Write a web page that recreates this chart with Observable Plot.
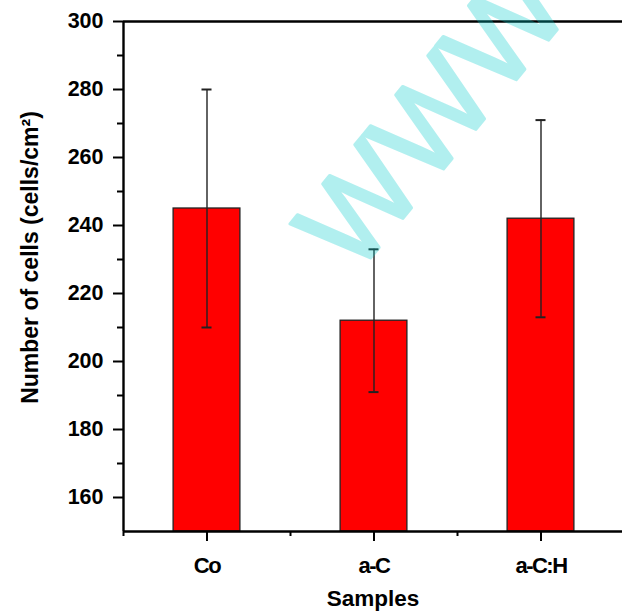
<!DOCTYPE html>
<html>
<head>
<meta charset="utf-8">
<script src="https://cdn.jsdelivr.net/npm/d3@7"></script>
<script src="https://cdn.jsdelivr.net/npm/@observablehq/plot@0.6"></script>
<style>
  html, body { margin: 0; padding: 0; background: #fff; }
  svg { display: block; }
</style>
</head>
<body>
<div id="chart"></div>
<script>
// ---- data ----
const categories = ["Co", "a-C", "a-C:H"];
const means      = [245, 212, 242];
const errLow     = [210, 191, 213];
const errHigh    = [280, 233, 271];
const yMajorTicks = [160, 180, 200, 220, 240, 260, 280, 300];
const yMinorTicks = [170, 190, 210, 230, 250, 270, 290];
const yDomain = [150, 300];
const yLabel = "Number of cells (cells/cm²)";
const xLabel = "Samples";
const watermark = "WWW";

const rows = categories.map((c, i) => ({
  pos: i + 1, name: c, mean: means[i], lo: errLow[i], hi: errHigh[i]
}));
const catPos = rows.map(d => d.pos);
const bounds = [0.5, ...rows.map(d => d.pos + 0.5)];

const FONT = "'Liberation Sans', Arial, Helvetica, sans-serif";
const half = 0.2, cap = 0.03;

const chart = Plot.plot({
  width: 622,
  height: 612,
  marginLeft: 123,
  marginRight: 0,
  marginTop: 21,
  marginBottom: 81,
  style: { fontFamily: FONT, fontWeight: "bold", background: "#fff", color: "#000", overflow: "visible" },
  x: { domain: [0.5, 3.5], range: [123, 624] },
  y: { domain: yDomain },
  marks: [
    Plot.rect(rows, {
      x1: d => d.pos - half, x2: d => d.pos + half,
      y1: yDomain[0], y2: "mean",
      fill: "#ff0000", stroke: "#222", strokeWidth: 1.3
    }),
    Plot.ruleX(rows, { x: "pos", y1: "lo", y2: "hi", stroke: "#222", strokeWidth: 1.4 }),
    Plot.ruleY(rows, { y: "lo", x1: d => d.pos - cap, x2: d => d.pos + cap, stroke: "#222", strokeWidth: 2 }),
    Plot.ruleY(rows, { y: "hi", x1: d => d.pos - cap, x2: d => d.pos + cap, stroke: "#222", strokeWidth: 2 }),
    // axis lines
    Plot.ruleY([yDomain[1]], { stroke: "#000", strokeWidth: 2.4 }),
    Plot.ruleY([yDomain[0]], { stroke: "#000", strokeWidth: 2.4 }),
    Plot.ruleX([0.5], { stroke: "#000", strokeWidth: 2.4 }),
    // y axis
    Plot.axisY({ ticks: yMajorTicks, tickSize: 10, tickPadding: 10, strokeWidth: 2,
      fontSize: 21.5, fontWeight: "bold", label: null, tickFormat: d => String(d) }),
    Plot.axisY({ ticks: yMinorTicks, tickSize: 6, strokeWidth: 2, tickFormat: () => "", label: null }),
    // x axis
    Plot.axisX({ ticks: catPos, tickSize: 10, tickPadding: 16, strokeWidth: 2,
      fontSize: 22, fontWeight: "bold", label: null,
      tickFormat: p => categories[p - 1] }),
    Plot.axisX({ ticks: bounds, tickSize: 5, strokeWidth: 2, tickFormat: () => "", label: null }),
    // axis titles
    Plot.text([yLabel], { text: d => d, frameAnchor: "left", rotate: -90, dx: -93, dy: -19,
      textAnchor: "middle", lineAnchor: "middle",
      fontSize: 23, fontWeight: "bold", fill: "#000" }),
    Plot.text([xLabel], { text: d => d, frameAnchor: "bottom", dy: 74, lineAnchor: "bottom",
      fontSize: 22.5, fontWeight: "bold", fill: "#000" }),
    // watermark
    Plot.text([watermark], { text: d => d, frameAnchor: "top-left", dx: 231, dy: 256,
      rotate: -50.7, textAnchor: "start", lineAnchor: "bottom",
      fontSize: 122, fontWeight: "normal", fill: "#00cdcd", stroke: "#00cdcd",
      strokeWidth: 3, opacity: 0.3 })
  ]
});
// tighter letter spacing on the category labels, as in the reference
d3.select(chart).selectAll('[aria-label="x-axis tick label"] text')
  .style("letter-spacing", "-1.5px");
document.getElementById("chart").appendChild(chart);
</script>
</body>
</html>
